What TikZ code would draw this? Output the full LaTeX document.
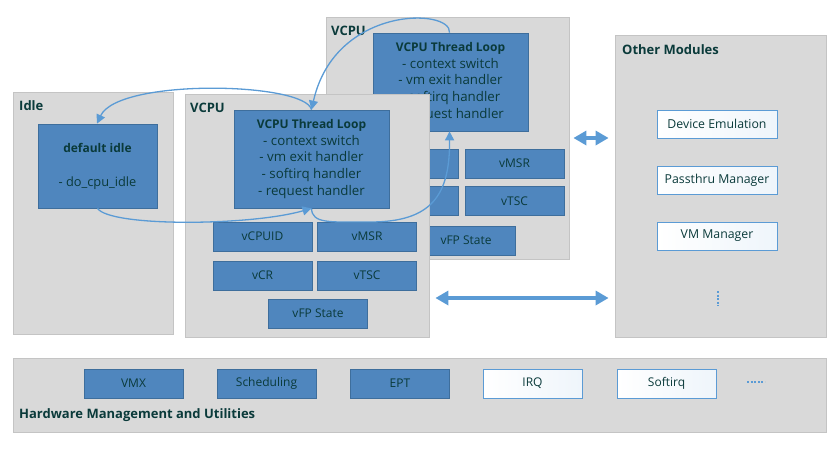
\documentclass[tikz,border=0pt]{standalone}
\usepackage{fontspec}
\setmainfont{Open Sans}
\usetikzlibrary{arrows.meta}
\definecolor{cgray}{HTML}{D9D9D9}
\definecolor{cgrayline}{HTML}{C4C4C4}
\definecolor{bfill}{HTML}{4F86BE}
\definecolor{bline}{HTML}{3E6E9C}
\definecolor{tcol}{RGB}{10,58,58}
\definecolor{acol}{HTML}{5B9BD5}
\newcommand{\ttl}[1]{{\bfseries\fontsize{12}{16.6}\selectfont #1}}
\tikzset{
  container/.style={draw=cgrayline, fill=cgray, line width=0.8pt, inner sep=0pt},
  bluebox/.style={draw=bline, fill=bfill, line width=0.7pt, text=tcol, inner sep=0pt, align=center},
  whitebox/.style={draw=acol, line width=0.9pt, top color=white, bottom color=white, left color=white, right color=acol!10, text=tcol, inner sep=0pt, align=center},
  small/.style={minimum width=99pt, minimum height=29pt, font=\fontsize{12}{14}\selectfont},
  label/.style={anchor=west, text=tcol, inner sep=0pt, font=\bfseries\fontsize{13}{15}\selectfont},
  loopbox/.style={bluebox, minimum width=155pt, minimum height=98pt, font=\fontsize{13.3}{16.6}\selectfont},
  flow/.style={draw=acol, line width=1.3pt, -{Triangle[length=9pt,width=9pt]}},
  dbl/.style={draw=acol, line width=3.5pt, {Triangle[length=13pt,width=14pt]}-{Triangle[length=13pt,width=14pt]}},
}
\begin{document}
\begin{tikzpicture}[x=1pt, y=-1pt]
\useasboundingbox (0,0) rectangle (834,448);
% Idle container
\node[container, minimum width=160pt, minimum height=242pt] (idle) at (93,213) {};
\node[label] (idlelbl) at (19,106) {Idle};
\node[bluebox, minimum width=119pt, minimum height=84pt, font=\fontsize{12.8}{17}\selectfont] (defidle) at (97.5,166)
  {\ttl{default idle}\\[17pt]- do\_cpu\_idle};
% Back VCPU
\node[container, minimum width=243pt, minimum height=242pt] (vcpuB) at (447.5,138) {};
\node[label] (vcpuBlbl) at (331,31) {VCPU};
\node[loopbox] (loopB) at (450.5,82)
  {\ttl{VCPU Thread Loop}\\- context switch\\- vm exit handler\\- softirq handler\\- request handler};
\node[bluebox, small] (cpuidB) at (408.5,163.5) {vCPUID};
\node[bluebox, small] (msrB) at (514.5,163.5) {vMSR};
\node[bluebox, small] (crB) at (408.5,201) {vCR};
\node[bluebox, small] (tscB) at (514.5,201) {vTSC};
\node[bluebox, small] (fpB) at (466,240.5) {vFP State};
% Front VCPU
\node[container, minimum width=244pt, minimum height=243pt] (vcpuF) at (307,215.5) {};
\node[label] (vcpuFlbl) at (190,108) {VCPU};
\node[loopbox] (loopF) at (311.5,159)
  {\ttl{VCPU Thread Loop}\\- context switch\\- vm exit handler\\- softirq handler\\- request handler};
\node[bluebox, small] (cpuidF) at (262.5,236.5) {vCPUID};
\node[bluebox, small] (msrF) at (367,236.5) {vMSR};
\node[bluebox, small] (crF) at (262.5,275.5) {vCR};
\node[bluebox, small] (tscF) at (367,275.5) {vTSC};
\node[bluebox, small] (fpF) at (318,313.5) {vFP State};
% Other modules
\node[container, minimum width=211pt, minimum height=302pt] (other) at (720.5,186) {};
\node[label] (otherlbl) at (622,50) {Other Modules};
\node[whitebox, minimum width=120pt, minimum height=28pt, font=\fontsize{12.3}{14}\selectfont] (devemu) at (717,124) {Device Emulation};
\node[whitebox, minimum width=120pt, minimum height=28pt, font=\fontsize{12.3}{14}\selectfont] (passthru) at (717,180) {Passthru Manager};
\node[whitebox, minimum width=120pt, minimum height=28pt, font=\fontsize{12.3}{14}\selectfont] (vmmgr) at (717,236) {VM Manager};
\coordinate (vd1) at (718,291);
\coordinate (vd2) at (718,306);
\draw[acol, line width=2.2pt, dash pattern=on 2pt off 1.6pt] (vd1) -- (vd2);
% Hardware
\node[container, minimum width=813pt, minimum height=74pt] (hw) at (419.5,395) {};
\node[label] (hwlbl) at (19,415) {Hardware Management and Utilities};
\node[bluebox, small] (vmx) at (133.5,383.5) {VMX};
\node[bluebox, small] (sched) at (266.5,383.5) {Scheduling};
\node[bluebox, small] (ept) at (400,383.5) {EPT};
\node[whitebox, small] (irq) at (532.5,383.5) {IRQ};
\node[whitebox, small] (softirq) at (666.5,383.5) {Softirq};
\coordinate (hd1) at (747,382);
\coordinate (hd2) at (765,382);
\draw[acol, line width=2.2pt, dash pattern=on 2pt off 1.6pt] (hd1) -- (hd2);
% Flow arrows
\draw[flow] ([xshift=-1pt]loopB.north) .. controls (452,8) and (335,5) .. (loopF.north);
\draw[flow] (loopF.north) .. controls (305,82) and (118,78) .. ([xshift=-0.5pt]defidle.north);
\draw[flow] (defidle.south) .. controls (110,227) and (250,226) .. (loopF.south);
\draw[flow] (loopF.south) .. controls (312,224) and (330,222) .. (370,222)
  .. controls (432,222) and (450,195) .. ([xshift=-1pt]loopB.south);
% Double arrows
\coordinate (lowy) at (0,298);
\draw[dbl, shorten <=4pt, shorten >=6pt] (vcpuB.east) -- (vcpuB.east -| other.west);
\draw[dbl, shorten <=6pt, shorten >=6pt] (vcpuF.east |- lowy) -- (other.west |- lowy);
\end{tikzpicture}
\end{document}
